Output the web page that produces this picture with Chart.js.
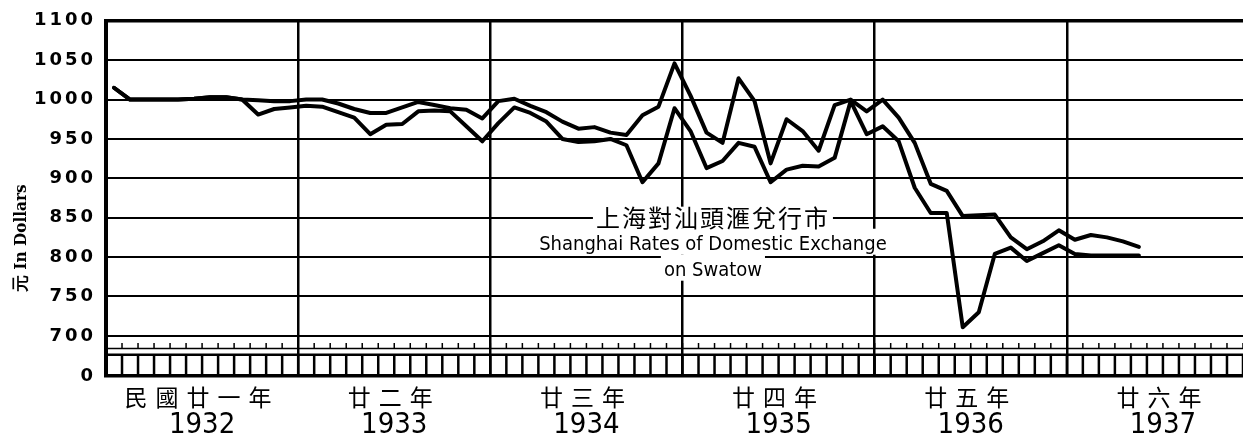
<!DOCTYPE html>
<html>
<head>
<meta charset="utf-8">
<script src="https://cdn.jsdelivr.net/npm/chart.js@4.4.1/dist/chart.umd.min.js"></script>
<style>
  html, body { margin: 0; padding: 0; background: #fff; }
</style>
</head>
<body>
<canvas id="rateChart" width="1243" height="446"></canvas>
<script>
// year captions under the chart
const yearLabels = ['1932', '1933', '1934', '1935', '1936', '1937'];
const yearLabelsCn = ['民國廿一年', '廿二年', '廿三年', '廿四年', '廿五年', '廿六年'];
// y axis: 700..1100 with a broken axis down to "0"
const yTicks = [700, 750, 800, 850, 900, 950, 1000, 1050, 1100];
const yBreak = 649;
const monthsShown = 71;

// monthly rates from Jan 1932, dollars
const upperRates = [
  1015, 1000, 1000, 1000, 1000, 1001, 1003, 1003, 1000, 999, 998, 998,
  1000, 1000, 995, 988, 983, 983, 990, 997, 993, 989, 987, 976,
  998, 1001, 992, 984, 972, 963, 965, 958, 955, 980, 991, 1046,
  1005, 958, 945, 1027, 998, 919, 975, 960, 935, 993, 1000, 985,
  1000, 977, 945, 893, 884, 852, 853, 854, 825, 810, 820, 834,
  822, 828, 825, 820, 813
];
const lowerRates = [
  1015, 1000, 1000, 1000, 1000, 1001, 1003, 1003, 1000, 981, 988, 990,
  992, 991, 984, 977, 956, 968, 969, 985, 986, 985, 966, 947,
  970, 990, 983, 972, 950, 946, 947, 950, 942, 895, 919, 989,
  960, 913, 922, 945, 940, 895, 911, 916, 915, 926, 998, 956,
  966, 947, 888, 856, 856, 711, 730, 804, 812, 795, 805, 815,
  804, 802, 802, 802, 802
];

const captionCn = '上海對汕頭滙兌行市';
const captionEn = ['Shanghai Rates of Domestic Exchange', 'on Swatow'];
const yTitle = '元 In Dollars';

const toPoints = arr => arr.map((v, i) => ({ x: i + 0.5, y: v }));
const narrow = "'Liberation Sans Narrow', 'DejaVu Sans Condensed', sans-serif";

// letter spacing on some tick labels (old lettering is spread out)
const spacedLabels = {
  id: 'spacedLabels',
  beforeDraw(chart) {
    [['y', '3px'], ['xc', '8px']].forEach(([id, sp]) => {
      const s = chart.scales[id];
      if (!s || s._spaced) return;
      const orig = s.drawLabels.bind(s);
      s.drawLabels = area => {
        chart.ctx.letterSpacing = sp;
        orig(area);
        chart.ctx.letterSpacing = '0px';
      };
      s._spaced = true;
    });
  }
};

// the broken strip between 700 and 0
const breakStrip = {
  id: 'breakStrip',
  beforeDatasetsDraw(chart) {
    const { ctx, chartArea } = chart;
    const xs = chart.scales.x, ys = chart.scales.y;
    const yBase = ys.getPixelForValue(684);
    const yTick = ys.getPixelForValue(691);
    const yBox = ys.getPixelForValue(676);
    const yBot = ys.getPixelForValue(yBreak);
    ctx.save();
    ctx.strokeStyle = '#000';
    ctx.lineWidth = 1.5;
    ctx.beginPath();
    ctx.moveTo(chartArea.left, yBase);
    ctx.lineTo(chartArea.right, yBase);
    for (let m = 1; m <= monthsShown; m++) {
      const px = xs.getPixelForValue(m);
      ctx.moveTo(px, yBase);
      ctx.lineTo(px, yTick);
    }
    ctx.stroke();
    ctx.lineWidth = 2.5;
    ctx.beginPath();
    ctx.moveTo(chartArea.left, yBox);
    ctx.lineTo(chartArea.right, yBox);
    for (let m = 1; m <= monthsShown; m++) {
      const px = xs.getPixelForValue(m);
      ctx.moveTo(px, yBox);
      ctx.lineTo(px, yBot);
    }
    ctx.stroke();
    ctx.restore();
  }
};

// caption in the middle of the plot + rotated axis title
const captions = {
  id: 'captions',
  afterDatasetsDraw(chart) {
    const { ctx } = chart;
    const xs = chart.scales.x, ys = chart.scales.y;
    const cx = xs.getPixelForValue(37.9);
    const lines = [
      { text: captionCn, y: ys.getPixelForValue(850), font: "24px 'Noto Sans CJK TC', sans-serif", sp: '2px', top: ys.getPixelForValue(864) },
      { text: captionEn[0], y: ys.getPixelForValue(816), font: '20px ' + narrow, sp: '0px', top: ys.getPixelForValue(836) },
      { text: captionEn[1], y: ys.getPixelForValue(783), font: '20px ' + narrow, sp: '0px', top: ys.getPixelForValue(803) }
    ];
    ctx.save();
    lines.forEach((l, i) => {
      ctx.font = l.font;
      ctx.letterSpacing = l.sp;
      const w = ctx.measureText(l.text).width;
      const bottom = i < lines.length - 1 ? lines[i + 1].top : ys.getPixelForValue(770);
      ctx.fillStyle = '#fff';
      ctx.fillRect(cx - w / 2 - 3, l.top, w + 6, bottom - l.top);
    });
    lines.forEach(l => {
      ctx.font = l.font;
      ctx.letterSpacing = l.sp;
      ctx.fillStyle = '#000';
      ctx.textAlign = 'center';
      ctx.textBaseline = 'middle';
      ctx.fillText(l.text, cx, l.y);
    });
    ctx.letterSpacing = '0px';
    // y title
    ctx.translate(22, ys.getPixelForValue(824));
    ctx.rotate(-Math.PI / 2);
    ctx.font = "bold 17px 'DejaVu Serif Condensed', 'DejaVu Serif', serif";
    ctx.fillStyle = '#000';
    ctx.textAlign = 'center';
    ctx.textBaseline = 'middle';
    ctx.fillText(yTitle, 0, 0);
    ctx.restore();
  }
};

const ctx = document.getElementById('rateChart').getContext('2d');
const chart = new Chart(ctx, {
  type: 'line',
  data: {
    datasets: [
      {
        label: 'upper',
        data: toPoints(upperRates),
        borderColor: '#000',
        borderWidth: 4,
        pointRadius: 0,
        tension: 0,
        borderJoinStyle: 'round',
        borderCapStyle: 'round',
        xAxisID: 'x',
        yAxisID: 'y'
      },
      {
        label: 'lower',
        data: toPoints(lowerRates),
        borderColor: '#000',
        borderWidth: 4,
        pointRadius: 0,
        tension: 0,
        borderJoinStyle: 'round',
        borderCapStyle: 'round',
        xAxisID: 'x',
        yAxisID: 'y'
      }
    ]
  },
  options: {
    responsive: false,
    devicePixelRatio: 1,
    animation: false,
    events: [],
    layout: { padding: { top: 20, right: 0, bottom: 0, left: 0 } },
    plugins: {
      legend: { display: false },
      tooltip: { enabled: false },
      title: { display: false }
    },
    scales: {
      x: {
        type: 'linear',
        position: 'bottom',
        weight: 0,
        min: 0,
        max: monthsShown,
        afterBuildTicks: s => { s.ticks = [12, 24, 36, 48, 60].map(v => ({ value: v })); },
        ticks: { display: false },
        grid: { color: '#000', lineWidth: 2.5, drawTicks: false },
        border: { display: false },
        afterFit: s => { s.height = 0; }
      },
      xc: {
        type: 'linear',
        position: 'bottom',
        weight: 1,
        min: 0,
        max: monthsShown,
        afterBuildTicks: s => { s.ticks = yearLabelsCn.map((t, i) => ({ value: i * 12 + 6 })); },
        ticks: {
          autoSkip: false,
          maxRotation: 0,
          padding: 10,
          color: '#000',
          font: { family: "'Noto Sans CJK TC', sans-serif", size: 23, lineHeight: 1 },
          callback: (v, i) => yearLabelsCn[i]
        },
        grid: { display: false, drawTicks: false },
        border: { display: false },
        afterFit: s => { s.height = 34; }
      },
      xy: {
        type: 'linear',
        position: 'bottom',
        weight: 2,
        min: 0,
        max: monthsShown,
        afterBuildTicks: s => { s.ticks = yearLabels.map((t, i) => ({ value: i * 12 + 6 })); },
        ticks: {
          autoSkip: false,
          maxRotation: 0,
          padding: 1,
          color: '#000',
          font: { family: narrow, size: 29, lineHeight: 1 },
          callback: (v, i) => yearLabels[i]
        },
        grid: { display: false, drawTicks: false },
        border: { display: false },
        afterFit: s => { s.height = 36; }
      },
      y: {
        type: 'linear',
        position: 'left',
        min: yBreak,
        max: 1100,
        afterBuildTicks: s => { s.ticks = [yBreak, ...yTicks].map(v => ({ value: v })); },
        ticks: {
          padding: 10,
          color: '#000',
          font: { family: "'DejaVu Sans', sans-serif", weight: 'bold', size: 18 },
          callback: v => (v < 700 ? '0' : String(v))
        },
        grid: {
          color: '#000',
          drawTicks: false,
          lineWidth: c => (c.tick && (c.tick.value === 1100 || c.tick.value === yBreak) ? 3.5 : 2)
        },
        border: { display: true, color: '#000', width: 4 },
        afterFit: s => { s.width = 106; }
      }
    }
  },
  plugins: [spacedLabels, breakStrip, captions]
});
</script>
</body>
</html>
